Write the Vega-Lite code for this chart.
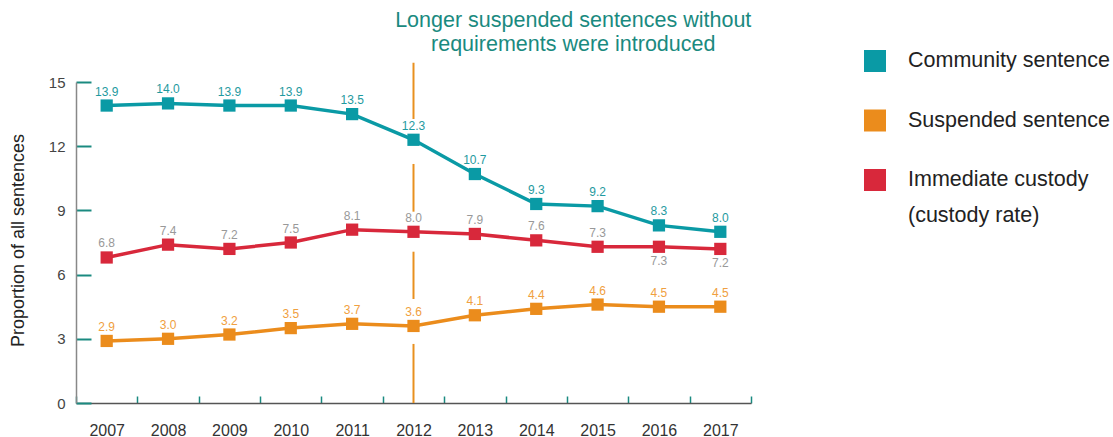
{
  "$schema": "https://vega.github.io/schema/vega-lite/v6.json",
  "width": 675,
  "height": 321,
  "autosize": "none",
  "padding": {"left": 76, "top": 82, "right": 362, "bottom": 34},
  "background": "white",
  "config": {"view": {"stroke": null}, "font": "Liberation Sans"},
  "datasets": {
    "series": [
      {"year": "2007", "series": "Community sentence", "value": 13.9},
      {"year": "2008", "series": "Community sentence", "value": 14.0},
      {"year": "2009", "series": "Community sentence", "value": 13.9},
      {"year": "2010", "series": "Community sentence", "value": 13.9},
      {"year": "2011", "series": "Community sentence", "value": 13.5},
      {"year": "2012", "series": "Community sentence", "value": 12.3},
      {"year": "2013", "series": "Community sentence", "value": 10.7},
      {"year": "2014", "series": "Community sentence", "value": 9.3},
      {"year": "2015", "series": "Community sentence", "value": 9.2},
      {"year": "2016", "series": "Community sentence", "value": 8.3},
      {"year": "2017", "series": "Community sentence", "value": 8.0},
      {"year": "2007", "series": "Suspended sentence", "value": 2.9},
      {"year": "2008", "series": "Suspended sentence", "value": 3.0},
      {"year": "2009", "series": "Suspended sentence", "value": 3.2},
      {"year": "2010", "series": "Suspended sentence", "value": 3.5},
      {"year": "2011", "series": "Suspended sentence", "value": 3.7},
      {"year": "2012", "series": "Suspended sentence", "value": 3.6},
      {"year": "2013", "series": "Suspended sentence", "value": 4.1},
      {"year": "2014", "series": "Suspended sentence", "value": 4.4},
      {"year": "2015", "series": "Suspended sentence", "value": 4.6},
      {"year": "2016", "series": "Suspended sentence", "value": 4.5},
      {"year": "2017", "series": "Suspended sentence", "value": 4.5},
      {"year": "2007", "series": "Immediate custody (custody rate)", "value": 6.8},
      {"year": "2008", "series": "Immediate custody (custody rate)", "value": 7.4},
      {"year": "2009", "series": "Immediate custody (custody rate)", "value": 7.2},
      {"year": "2010", "series": "Immediate custody (custody rate)", "value": 7.5},
      {"year": "2011", "series": "Immediate custody (custody rate)", "value": 8.1},
      {"year": "2012", "series": "Immediate custody (custody rate)", "value": 8.0},
      {"year": "2013", "series": "Immediate custody (custody rate)", "value": 7.9},
      {"year": "2014", "series": "Immediate custody (custody rate)", "value": 7.6},
      {"year": "2015", "series": "Immediate custody (custody rate)", "value": 7.3},
      {"year": "2016", "series": "Immediate custody (custody rate)", "value": 7.3},
      {"year": "2017", "series": "Immediate custody (custody rate)", "value": 7.2}
    ],
    "guide": [
      {"year": "2012", "start": 15.9, "end": 13.27},
      {"year": "2012", "start": 11.17, "end": 8.94},
      {"year": "2012", "start": 7.07, "end": 4.86},
      {"year": "2012", "start": 2.76, "end": 0}
    ]
  },
  "layer": [
    {
      "data": {"name": "series"},
      "mark": {"type": "line", "strokeWidth": 3.5},
      "encoding": {
        "x": {
          "field": "year",
          "type": "ordinal",
          "scale": {"type": "band", "paddingInner": 0, "paddingOuter": 0},
          "axis": {
            "title": null,
            "labelAngle": 0,
            "labelFontSize": 16,
            "labelColor": "#333333",
            "labelPadding": 26,
            "tickBand": "extent",
            "tickColor": "#1a8a80",
            "tickSize": -7,
            "tickWidth": 1.5,
            "domainColor": "#555555",
            "domainWidth": 1.5
          }
        },
        "y": {
          "field": "value",
          "type": "quantitative",
          "scale": {"domain": [0, 15], "nice": false},
          "axis": {
            "title": "Proportion of all sentences",
            "titleFontSize": 18,
            "titleFontWeight": "normal",
            "titleColor": "#222222",
            "titleX": -58,
            "titleY": 158,
            "titleBaseline": "middle",
            "values": [0, 3, 6, 9, 12, 15],
            "grid": false,
            "labelFontSize": 15,
            "labelColor": "#444444",
            "labelPadding": 26,
            "tickColor": "#1a8a80",
            "tickSize": -15,
            "tickWidth": 2,
            "domainColor": "#888888",
            "domainWidth": 1.5
          }
        },
        "color": {
          "field": "series",
          "type": "nominal",
          "scale": {
            "domain": ["Community sentence", "Suspended sentence", "Immediate custody (custody rate)"],
            "range": ["#0a9aa5", "#eb8c1c", "#d8283b"]
          },
          "legend": {
            "orient": "none",
            "legendX": 788,
            "legendY": -32,
            "title": null,
            "padding": 0,
            "symbolType": "square",
            "symbolSize": 484,
            "symbolStrokeWidth": 0,
            "symbolOpacity": 1,
            "labelFontSize": 21.5,
            "labelColor": "#222222",
            "labelOffset": 22,
            "labelLimit": 400,
            "rowPadding": 37.5,
            "labelExpr": "datum.label == 'Immediate custody (custody rate)' ? ['Immediate custody', '\u00a0(custody rate)'] : datum.label",
            "encode": {"labels": {"update": {"lineHeight": {"value": 36}}}}
          }
        }
      }
    },
    {
      "data": {"name": "guide"},
      "mark": {"type": "rule", "color": "#e8901f", "strokeWidth": 2},
      "encoding": {
        "x": {"field": "year", "type": "ordinal"},
        "y": {"field": "start", "type": "quantitative"},
        "y2": {"field": "end"}
      }
    },
    {
      "data": {"name": "series"},
      "mark": {"type": "point", "shape": "square", "filled": true, "size": 150, "opacity": 1},
      "encoding": {
        "x": {"field": "year", "type": "ordinal"},
        "y": {"field": "value", "type": "quantitative"},
        "color": {"field": "series", "type": "nominal"}
      }
    },
    {
      "data": {"name": "series"},
      "transform": [{"filter": "datum.series == 'Community sentence'"}],
      "mark": {"type": "text", "dy": -14, "fontSize": 12, "color": "#1f9aa0"},
      "encoding": {
        "x": {"field": "year", "type": "ordinal"},
        "y": {"field": "value", "type": "quantitative"},
        "text": {"field": "value", "type": "quantitative", "format": ".1f"}
      }
    },
    {
      "data": {"name": "series"},
      "transform": [{"filter": "datum.series == 'Suspended sentence'"}],
      "mark": {"type": "text", "dy": -14, "fontSize": 12, "color": "#f0a040"},
      "encoding": {
        "x": {"field": "year", "type": "ordinal"},
        "y": {"field": "value", "type": "quantitative"},
        "text": {"field": "value", "type": "quantitative", "format": ".1f"}
      }
    },
    {
      "data": {"name": "series"},
      "transform": [{"filter": "datum.series == 'Immediate custody (custody rate)' && datum.year != '2016' && datum.year != '2017'"}],
      "mark": {"type": "text", "dy": -14, "fontSize": 12, "color": "#999999"},
      "encoding": {
        "x": {"field": "year", "type": "ordinal"},
        "y": {"field": "value", "type": "quantitative"},
        "text": {"field": "value", "type": "quantitative", "format": ".1f"}
      }
    },
    {
      "data": {"name": "series"},
      "transform": [{"filter": "datum.series == 'Immediate custody (custody rate)' && (datum.year == '2016' || datum.year == '2017')"}],
      "mark": {"type": "text", "dy": 14, "fontSize": 12, "color": "#999999"},
      "encoding": {
        "x": {"field": "year", "type": "ordinal"},
        "y": {"field": "value", "type": "quantitative"},
        "text": {"field": "value", "type": "quantitative", "format": ".1f"}
      }
    },
    {
      "data": {"values": [{"note": "annotation"}]},
      "mark": {
        "type": "text",
        "lineHeight": 24,
        "dx": 37,
        "fontSize": 21.5,
        "color": "#1a8a80",
        "align": "center",
        "baseline": "middle"
      },
      "encoding": {
        "x": {"datum": "2014", "type": "ordinal"},
        "y": {"datum": 17.86, "type": "quantitative"},
        "text": {"value": ["Longer suspended sentences without", "requirements were introduced"]}
      }
    }
  ]
}
